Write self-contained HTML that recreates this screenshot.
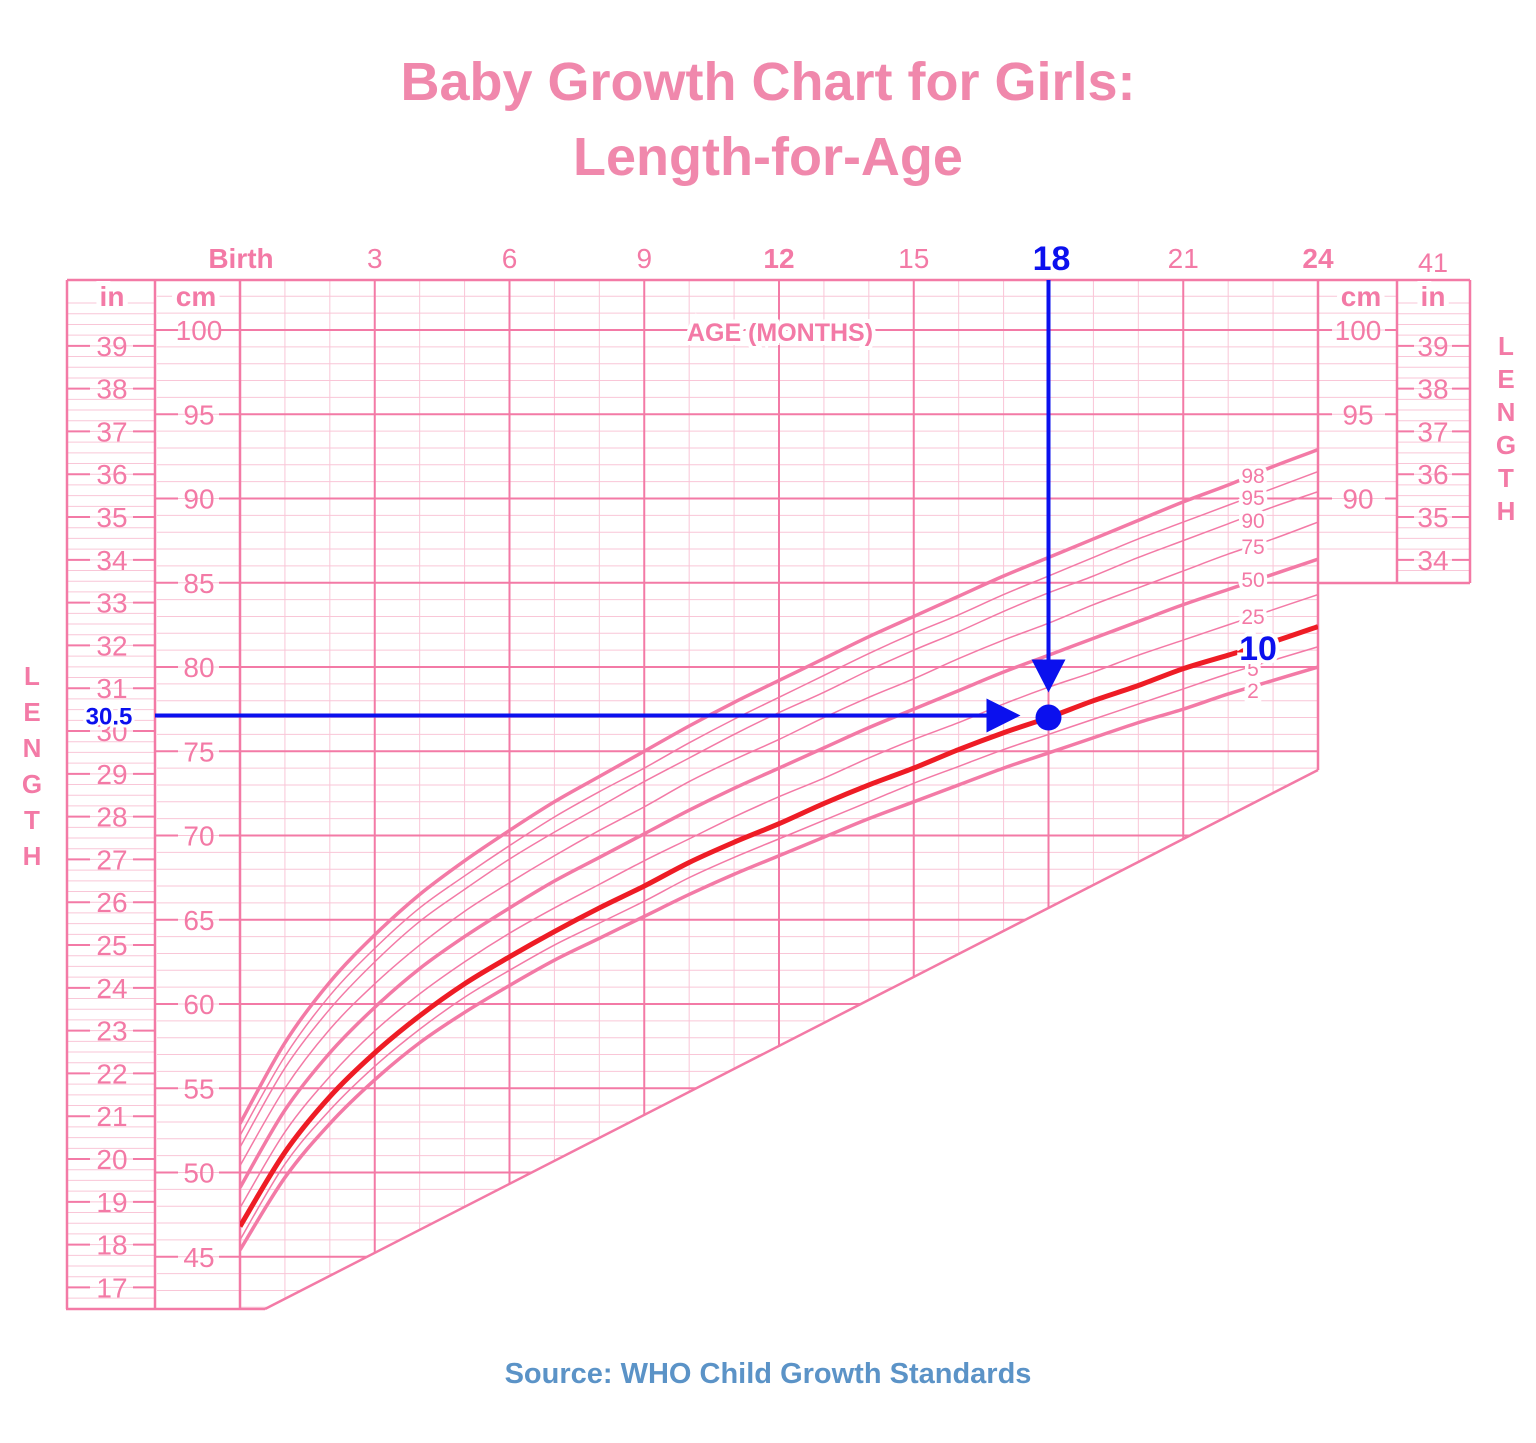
<!DOCTYPE html>
<html><head><meta charset="utf-8"><style>
body{margin:0;background:#fff}
svg{display:block}
text{font-family:"Liberation Sans",sans-serif}
</style></head><body>
<svg id="c" width="1536" height="1443" viewBox="0 0 1536 1443">
<text x="768" y="100" text-anchor="middle" font-size="54" font-weight="bold" fill="#f088ac">Baby Growth Chart for Girls:</text>
<text x="768" y="175" text-anchor="middle" font-size="54" font-weight="bold" fill="#f088ac">Length-for-Age</text>
<text x="768" y="1383" text-anchor="middle" font-size="29" font-weight="bold" fill="#5b93c7">Source: WHO Child Growth Standards</text>
<defs><clipPath id="gc"><polygon points="240,280 1318,280 1318,770 265,1309 240,1309"/></clipPath></defs>
<g id="grid" clip-path="url(#gc)"></g>
<g id="frame"></g>
<g id="curves" clip-path="url(#gc)"></g>
<g id="labels"></g>
<g id="anno"></g>
</svg>
<script>
const months=[0,1,2,3,4,5,6,7,8,9,10,11,12,13,14,15,16,17,18,19,20,21,22,23,24];
const p2=[45.4,49.7,52.9,55.5,57.7,59.5,61.1,62.6,63.9,65.2,66.5,67.7,68.8,69.9,71.0,72.0,73.0,74.0,74.9,75.8,76.7,77.5,78.4,79.2,80.0];
const p5=[46.0,50.5,53.7,56.3,58.5,60.4,62.0,63.5,64.8,66.1,67.5,68.7,69.8,70.9,72.0,73.1,74.1,75.1,76.0,76.9,77.8,78.7,79.6,80.4,81.2];
const p10=[46.8,51.2,54.5,57.1,59.3,61.2,62.8,64.3,65.7,67.0,68.4,69.6,70.7,71.9,73.0,74.0,75.1,76.1,77.0,78.0,78.9,79.9,80.7,81.5,82.4];
const p25=[47.9,52.4,55.7,58.4,60.6,62.5,64.2,65.7,67.1,68.5,69.8,71.1,72.3,73.4,74.6,75.7,76.7,77.8,78.8,79.7,80.7,81.6,82.5,83.4,84.3];
const p50=[49.1,53.7,57.1,59.8,62.1,64.0,65.7,67.3,68.7,70.1,71.5,72.8,74.0,75.2,76.4,77.5,78.6,79.7,80.7,81.7,82.7,83.7,84.6,85.5,86.4];
const p75=[50.4,55.0,58.5,61.2,63.5,65.5,67.2,68.8,70.3,71.7,73.2,74.5,75.7,77.0,78.2,79.3,80.5,81.6,82.6,83.7,84.7,85.7,86.7,87.6,88.6];
const p90=[51.5,56.2,59.7,62.5,64.9,66.8,68.6,70.2,71.7,73.2,74.6,76.0,77.3,78.5,79.8,81.0,82.1,83.3,84.4,85.4,86.5,87.5,88.5,89.5,90.4];
const p95=[52.2,56.9,60.5,63.3,65.7,67.6,69.4,71.1,72.6,74.0,75.5,76.9,78.2,79.5,80.8,82.0,83.1,84.3,85.4,86.5,87.6,88.6,89.6,90.6,91.6];
const p98=[52.9,57.7,61.3,64.1,66.5,68.5,70.3,72.0,73.5,75.0,76.5,77.9,79.2,80.5,81.8,83.0,84.2,85.4,86.5,87.6,88.7,89.8,90.8,91.9,92.9];
const ageTicks=["Birth","3","6","9","12","15","18","21","24"];
const cmTicks=[45,50,55,60,65,70,75,80,85,90,95,100];
const inTicks=[17,18,19,20,21,22,23,24,25,26,27,28,29,30,31,32,33,34,35,36,37,38,39];
const rightCm=[90,95,100];
const rightIn=[34,35,36,37,38,39];
const childAge=18, childLen=77.0;

const PK="#f37aa6", LT="#f9c6d7";
const X=m=>240+m*(1078/24);
const Y=cm=>330+(100-cm)*16.85;
const NS="http://www.w3.org/2000/svg";
function mk(tag,parent,attrs,txt){const e=document.createElementNS(NS,tag);for(const k in attrs)e.setAttribute(k,attrs[k]);if(txt!==undefined)e.textContent=txt;parent.appendChild(e);return e;}
const grid=document.getElementById('grid'),frame=document.getElementById('frame'),curves=document.getElementById('curves'),labels=document.getElementById('labels'),anno=document.getElementById('anno');

// minor horizontal (cm) lines
for(let cm=42;cm<=103;cm++){
  const l=mk('line',grid,{x1:240,x2:1318,y1:Y(cm),y2:Y(cm),stroke:LT,'stroke-width':1});
  
  
}
// vertical month lines
for(let m=0;m<=24;m++){
  const major=m%3===0;
  const l=mk('line',grid,{x1:X(m),x2:X(m),y1:280,y2:1320,stroke:major?PK:LT,'stroke-width':major?2:1});
  
  
}
// major horizontal lines
cmTicks.forEach(cm=>{
  const l=mk('line',grid,{x1:240,x2:1318,y1:Y(cm),y2:Y(cm),stroke:PK,'stroke-width':2});
  
  
});
// left panel light lines
for(let cm=41;cm<=103;cm++){ if(Y(cm)>1305||Y(cm)<285)continue;
  const l=mk('line',frame,{x1:157,x2:240,y1:Y(cm),y2:Y(cm),stroke:LT,'stroke-width':1});
  
  
}
for(let i=16.25;i<=40;i+=0.25){const y=Y(i*2.54); if(y>1305||y<285)continue;
  const l=mk('line',frame,{x1:68,x2:155,y1:y,y2:y,stroke:LT,'stroke-width':1});
  
  
}
// right panel light lines
for(let cm=87;cm<=103;cm++){ if(Y(cm)>580||Y(cm)<285)continue;
  const l=mk('line',frame,{x1:1318,x2:1397,y1:Y(cm),y2:Y(cm),stroke:LT,'stroke-width':1});
  
  
}
for(let i=33.25;i<=40;i+=0.25){const y=Y(i*2.54); if(y>580||y<285)continue;
  const l=mk('line',frame,{x1:1397,x2:1470,y1:y,y2:y,stroke:LT,'stroke-width':1});
  
  
}
// frames
const fr=[[67,280,1318,280],[67,280,67,1309],[155,280,155,1309],[240,280,240,1309],[66,1309,265,1309],[265,1309,1318,770],[1318,280,1318,770],
 [1318,280,1470,280],[1397,280,1397,583],[1470,280,1470,583],[1318,583,1470,583]];
fr.forEach(s=>{const l=mk('line',frame,{x1:s[0],y1:s[1],x2:s[2],y2:s[3],stroke:PK,'stroke-width':2.5});
  
  });
// ticks and labels left
cmTicks.concat([]).forEach(cm=>{const y=Y(cm);
  mk('line',frame,{x1:155,x2:178,y1:y,y2:y,stroke:PK,'stroke-width':2});
  mk('line',frame,{x1:219,x2:240,y1:y,y2:y,stroke:PK,'stroke-width':2});
  const t=mk('text',labels,{x:199,y:y+10,'text-anchor':'middle','font-size':28,fill:PK},cm);
  
  
});
inTicks.forEach(i=>{const y=Y(i*2.54);
  mk('line',frame,{x1:67,x2:90,y1:y,y2:y,stroke:PK,'stroke-width':2});
  mk('line',frame,{x1:133,x2:155,y1:y,y2:y,stroke:PK,'stroke-width':2});
  const t=mk('text',labels,{x:112,y:y+10,'text-anchor':'middle','font-size':28,fill:PK},i);
  
  
});
rightCm.forEach(cm=>{const y=Y(cm);
  mk('line',frame,{x1:1318,x2:1332,y1:y,y2:y,stroke:PK,'stroke-width':2});
  mk('line',frame,{x1:1385,x2:1397,y1:y,y2:y,stroke:PK,'stroke-width':2});
  const t=mk('text',labels,{x:1358,y:y+10,'text-anchor':'middle','font-size':28,fill:PK},cm);
  
  
});
rightIn.forEach(i=>{const y=Y(i*2.54);
  mk('line',frame,{x1:1397,x2:1414,y1:y,y2:y,stroke:PK,'stroke-width':2});
  mk('line',frame,{x1:1452,x2:1470,y1:y,y2:y,stroke:PK,'stroke-width':2});
  const t=mk('text',labels,{x:1433,y:y+10,'text-anchor':'middle','font-size':28,fill:PK},i);
  
  
});
[[112,306,'in'],[196,306,'cm'],[1361,306,'cm'],[1433,306,'in']].forEach(a=>{
  mk('line',frame,{x1:67,x2:0,y1:0,y2:0});
  const t=mk('text',labels,{x:a[0],y:a[1],'text-anchor':'middle','font-size':28,'font-weight':'bold',fill:PK,stroke:'#fff','stroke-width':10,'paint-order':'stroke'},a[2]);
  
  
});
const t41=mk('text',labels,{x:1433,y:272,'text-anchor':'middle','font-size':27,fill:PK},'41');


ageTicks.forEach((s,i)=>{const bold=(i===0||i===4||i===8);
  const t=mk('text',labels,{x:X(i*3)+(i===0?1:0),y:268,'text-anchor':'middle','font-size':i===6?0:28,'font-weight':bold?'bold':'normal',fill:PK},s);
  
  
});
const at=mk('text',labels,{x:780,y:341,'text-anchor':'middle','font-size':25,'font-weight':'bold',fill:PK,stroke:'#fff','stroke-width':8,'paint-order':'stroke'},'AGE (MONTHS)');


"LENGTH".split('').forEach((c,i)=>{
  const a=mk('text',labels,{x:32,y:685+i*36,'text-anchor':'middle','font-size':26,'font-weight':'bold',fill:PK},c);
  
  
  const b=mk('text',labels,{x:1506,y:355+i*33,'text-anchor':'middle','font-size':26,'font-weight':'bold',fill:PK},c);
  
  
});
// curves
function path(vals){const pts=months.map((m,i)=>[X(m),Y(vals[i])]);let d='M'+pts[0][0]+','+pts[0][1];
  for(let i=0;i<pts.length-1;i++){const p0=pts[Math.max(0,i-1)],p1=pts[i],p2=pts[i+1],p3=pts[Math.min(pts.length-1,i+2)];
    d+=` C${p1[0]+(p2[0]-p0[0])/6},${p1[1]+(p2[1]-p0[1])/6} ${p2[0]-(p3[0]-p1[0])/6},${p2[1]-(p3[1]-p1[1])/6} ${p2[0]},${p2[1]}`;}
  return d;}
const series=[[p2,3.5,PK,'2'],[p5,1.5,PK,'5'],[p25,1.5,PK,'25'],[p75,1.5,PK,'75'],[p90,1.5,PK,'90'],[p95,1.5,PK,'95'],[p98,3.5,PK,'98'],[p50,3.5,PK,'50'],[p10,5,'#ee1c25','10']];
series.forEach(s=>{const p=mk('path',curves,{d:path(s[0]),fill:'none',stroke:s[2],'stroke-width':s[1]});
  
  });
const lblY={'98':475,'95':497,'90':520,'75':546,'50':579,'25':616,'5':668,'2':690};
Object.keys(lblY).forEach(k=>{const t=mk('text',labels,{x:1253,y:lblY[k]+8,'text-anchor':'middle','font-size':21,fill:PK,stroke:'#fff','stroke-width':7,'paint-order':'stroke'},k);
  
  });
// annotations
const B='#0b10ee';
const cx=X(childAge), cy=Y(childLen);
const vl=mk('line',anno,{x1:cx,x2:cx,y1:280,y2:cy-50,stroke:B,'stroke-width':4});


const va=mk('polygon',anno,{points:`${cx-17},${cy-58} ${cx+17},${cy-58} ${cx},${cy-25}`,fill:B});


const hl=mk('line',anno,{x1:155,x2:cx-60,y1:cy-2,y2:cy-2,stroke:B,'stroke-width':4});


const ha=mk('polygon',anno,{points:`${cx-62},${cy-19} ${cx-62},${cy+15} ${cx-28},${cy-2}`,fill:B});


const dot=mk('circle',anno,{cx:cx,cy:cy,r:13,fill:B});


const a18=mk('text',anno,{x:cx+3,y:270,'text-anchor':'middle','font-size':34,'font-weight':'bold',fill:B},'18');


const a30=mk('text',anno,{x:109,y:cy+7,'text-anchor':'middle','font-size':24,'font-weight':'bold',fill:B,stroke:'#fff','stroke-width':6,'paint-order':'stroke'},'30.5');


const a10=mk('text',anno,{x:1258,y:660,'text-anchor':'middle','font-size':34,'font-weight':'bold',fill:B,stroke:'#fff','stroke-width':8,'paint-order':'stroke'},'10');


</script>
</body></html>
